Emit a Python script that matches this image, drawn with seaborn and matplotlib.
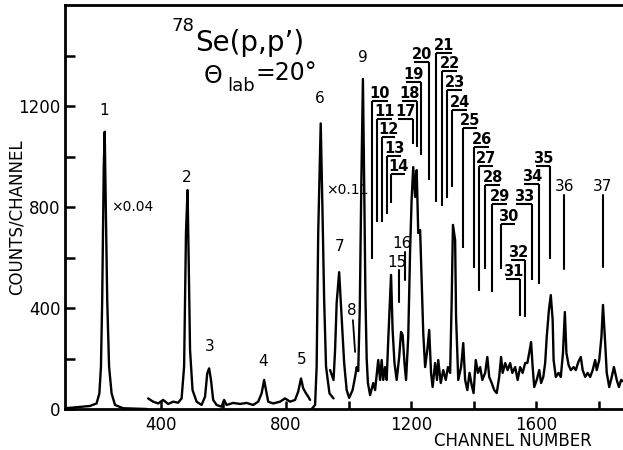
import matplotlib
matplotlib.use("Agg")
import matplotlib.pyplot as plt
import seaborn as sns
import pandas as pd
from matplotlib.ticker import FixedLocator

sns.set_theme(style="ticks")
plt.rcParams["font.family"] = ["DejaVu Sans"]
plt.rcParams["text.color"] = "black"
plt.rcParams["axes.labelcolor"] = "black"

# ---- spectrum segments (channel, counts/channel) ----
# elastic peak, drawn scaled by x0.04
seg_a_ch = [93, 130, 173, 194, 203, 208, 212, 217, 220, 224, 228, 234, 242, 253, 279, 354]
seg_a_ct = [3, 7, 12, 22, 62, 168, 432, 960, 1098, 762, 432, 168, 62, 16, 3, 0]

# low-lying levels 2-5
seg_b_ch = [359, 375, 391, 407, 423, 439, 455, 466, 474, 480, 485, 489, 493, 501, 514, 530,
            541, 548, 554, 560, 567, 578, 594, 602, 610, 631, 653, 674, 695, 711, 722, 730,
            736, 743, 759, 781, 797, 813, 829, 839, 848, 855, 864, 871, 877]
seg_b_ct = [42, 29, 22, 36, 20, 29, 25, 42, 168, 697, 867, 562, 234, 75, 29, 16,
            49, 141, 161, 115, 36, 16, 9, 36, 16, 24, 20, 24, 16, 29, 62, 115,
            75, 29, 22, 29, 42, 29, 36, 69, 121, 82, 62, 49, 36]

# level 6, drawn scaled by x0.11
seg_c_ch = [882, 893, 898, 903, 911, 916, 922, 928, 939, 952]
seg_c_ct = [0, 16, 168, 697, 1131, 828, 432, 168, 62, 42]

# high-lying region, levels 7-37
seg_d_ch = [941, 952, 957, 962, 970, 976, 986, 994, 1002, 1013, 1021, 1026, 1031, 1036,
            1041, 1046, 1050, 1054, 1058, 1062, 1069, 1079, 1085, 1095, 1101, 1106, 1111,
            1117, 1122, 1127, 1136, 1141, 1147, 1154, 1162, 1168, 1173, 1179, 1184, 1191,
            1197, 1202, 1207, 1213, 1218, 1223, 1229, 1234, 1239, 1245, 1252, 1258, 1264,
            1269, 1277, 1283, 1287, 1295, 1303, 1311, 1318, 1325, 1330, 1334, 1341, 1344,
            1351, 1360, 1367, 1373, 1380, 1387, 1394, 1400, 1407, 1414, 1421, 1428, 1437,
            1444, 1450, 1458, 1466, 1474, 1482, 1488, 1493, 1501, 1509, 1517, 1524, 1533,
            1541, 1549, 1557, 1565, 1572, 1578, 1584, 1589, 1594, 1602, 1610, 1616, 1623,
            1629, 1634, 1641, 1647, 1653, 1656, 1663, 1672, 1679, 1686, 1692, 1697, 1704,
            1711, 1720, 1727, 1735, 1743, 1749, 1757, 1765, 1773, 1781, 1789, 1794, 1802,
            1809, 1814, 1821, 1826, 1834, 1842, 1849, 1858, 1865, 1872, 1878]
seg_d_ct = [154, 115, 234, 420, 542, 404, 182, 75, 44, 75, 127, 166, 150, 400,
            900, 1307, 900, 450, 200, 103, 55, 103, 75, 194, 115, 194, 115,
            166, 115, 273, 531, 313, 182, 115, 206, 305, 293, 182, 115, 285,
            630, 836, 958, 840, 946, 697, 709, 499, 301, 166, 234, 313, 143,
            87, 182, 115, 194, 103, 154, 115, 166, 143, 432, 729, 669, 364,
            115, 166, 261, 115, 75, 143, 95, 63, 194, 143, 166, 115, 143,
            206, 127, 103, 75, 63, 127, 206, 143, 182, 154, 182, 143, 166,
            115, 166, 143, 182, 182, 222, 265, 166, 87, 115, 154, 103, 127,
            182, 285, 392, 451, 352, 194, 127, 143, 127, 222, 384, 222, 174,
            154, 166, 154, 186, 206, 154, 127, 143, 127, 154, 194, 154, 194,
            285, 412, 261, 143, 87, 127, 166, 115, 87, 115, 110]

# ---- level labels ----
# plain labels placed above their peaks
peak_lbl = ["1", "2", "3", "4", "5", "6", "7", "8", "9"]
peak_lbl_ch = [218, 483, 557, 726, 851, 909, 970, 1011, 1046]
peak_lbl_ct = [1184, 915, 249, 190, 198, 1228, 642, 392, 1394]

# underlined labels with a vertical marker dropped from one end of the bar
bar_lbl = ["10", "11", "12", "13", "14", "17", "18", "19", "20", "21", "22", "23", "24",
           "25", "26", "27", "28", "29", "30", "31", "32", "33", "34", "35"]
bar_left = [1075, 1091, 1107, 1123, 1136, 1158, 1171, 1184, 1210, 1280, 1299, 1315, 1331,
            1366, 1402, 1418, 1437, 1459, 1488, 1504, 1520, 1536, 1562, 1600]
bar_right = [1126, 1139, 1149, 1168, 1181, 1206, 1219, 1232, 1258, 1331, 1347, 1363, 1379,
             1411, 1450, 1462, 1485, 1507, 1533, 1549, 1565, 1587, 1610, 1645]
bar_level = [1220, 1148, 1077, 1002, 931, 1148, 1220, 1295, 1374, 1410, 1338, 1263, 1184,
             1113, 1038, 962, 887, 812, 733, 515, 590, 812, 891, 962]
bar_stem_end = [594, 741, 741, 772, 816, 1049, 1037, 1006, 907, 820, 804, 836, 879,
                638, 558, 467, 554, 463, 554, 368, 364, 511, 495, 594]
bar_side = ["L", "L", "L", "L", "L", "R", "R", "R", "R", "L", "L", "L", "L",
            "L", "L", "L", "L", "L", "L", "R", "R", "R", "R", "R"]

# labels with a free-standing vertical marker
stem_lbl = ["15", "16", "36", "37"]
stem_lbl_ch = [1155, 1171, 1690, 1811]
stem_lbl_ct = [582, 657, 883, 883]
stem_ch = [1162, 1181, 1690, 1814]
stem_top = [550, 622, 847, 847]
stem_bottom = [424, 511, 554, 562]

# axis ticks
x_major = [400, 800, 1200, 1600]
x_minor = [600, 1000, 1400, 1800]
y_major = [0, 400, 800, 1200]
y_minor = [200, 600, 1000, 1400]

fig = plt.figure(figsize=(6.23, 4.5), dpi=100)
ax = fig.add_axes([65 / 623, 41 / 450, 558 / 623, 404 / 450])

line_kw = dict(color="black", lw=1.7, estimator=None, sort=False, legend=False)
for chs, cts in [(seg_a_ch, seg_a_ct), (seg_b_ch, seg_b_ct),
                 (seg_c_ch, seg_c_ct), (seg_d_ch, seg_d_ct)]:
    df = pd.DataFrame({"channel": chs, "counts": cts})
    sns.lineplot(data=df, x="channel", y="counts", ax=ax, **line_kw)

ax.set_xlim(93, 1878)
ax.set_ylim(0, 1600)

# plain peak labels
for t, x, y in zip(peak_lbl, peak_lbl_ch, peak_lbl_ct):
    ax.text(x, y, t, ha="center", va="center", fontsize=11)
# marker under label 8
ax.plot([1014, 1021], [352, 226], color="black", lw=1.3)

# underlined labels
for t, l, r, lev, end, side in zip(bar_lbl, bar_left, bar_right, bar_level,
                                   bar_stem_end, bar_side):
    ax.plot([l, r], [lev, lev], color="black", lw=1.5, solid_capstyle="butt")
    sx = l if side == "L" else r
    ax.plot([sx, sx], [lev, end], color="black", lw=1.5, solid_capstyle="butt")
    ax.text((l + r) / 2, lev, t, ha="center", va="bottom", fontsize=10.5,
            fontweight="bold")

# labels with free vertical markers
for t, x, y, sx, top, bot in zip(stem_lbl, stem_lbl_ch, stem_lbl_ct, stem_ch,
                                 stem_top, stem_bottom):
    ax.text(x, y, t, ha="center", va="center", fontsize=11)
    ax.plot([sx, sx], [top, bot], color="black", lw=1.5)

# scale factors
ax.text(240, 800, "\u00d70.04", ha="left", va="center", fontsize=10)
ax.text(928, 867, "\u00d70.11", ha="left", va="center", fontsize=10)

# reaction and angle
ax.text(684, 1449, "Se(p,p\u2019)", ha="center", va="center", fontsize=20)
ax.text(508, 1515, "78", ha="right", va="center", fontsize=13)
ax.text(565, 1320, "\u0398", ha="center", va="center", fontsize=17)
ax.text(655, 1280, "lab", ha="center", va="center", fontsize=13)
ax.text(800, 1330, "=20\u00b0", ha="center", va="center", fontsize=17)

# axes styling
for s in ["left", "top", "bottom"]:
    ax.spines[s].set_linewidth(2)
    ax.spines[s].set_color("black")
ax.spines["right"].set_visible(False)

ax.xaxis.set_major_locator(FixedLocator(x_major))
ax.xaxis.set_minor_locator(FixedLocator(x_minor))
ax.yaxis.set_major_locator(FixedLocator(y_major))
ax.yaxis.set_minor_locator(FixedLocator(y_minor))
ax.tick_params(which="both", direction="in", width=1.8, colors="black",
               labelsize=12, top=False, right=False)
ax.tick_params(axis="y", which="both", length=7, pad=3)
ax.tick_params(axis="x", which="both", length=6, pad=5)

ax.set_xlabel("CHANNEL NUMBER", fontsize=12)
ax.set_ylabel("COUNTS/CHANNEL", fontsize=12)
ax.xaxis.set_label_coords(0.803, -0.058)
ax.yaxis.set_label_coords(-0.070, 0.475)

fig.savefig("out.png", dpi=100)
